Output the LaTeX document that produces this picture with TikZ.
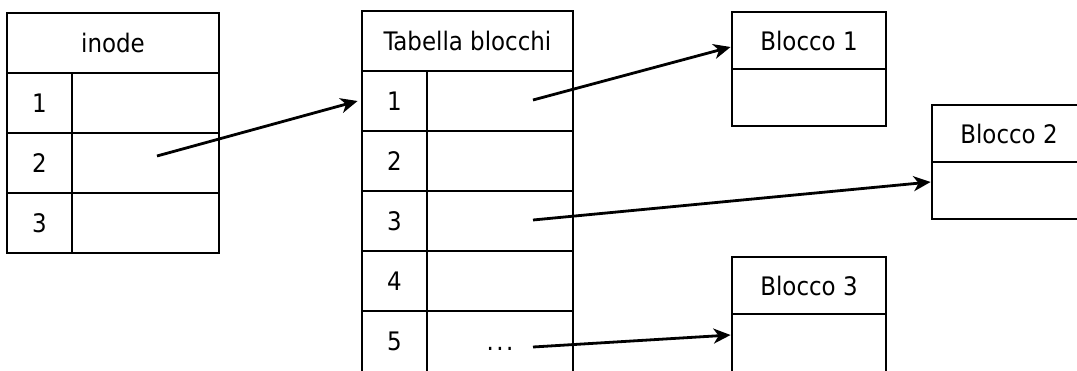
\documentclass[tikz,border=0pt]{standalone}
\usepackage{fontspec}
\setmainfont{DejaVu Sans Condensed}
\usetikzlibrary{arrows.meta}
\begin{document}
\begin{tikzpicture}[x=1pt,y=-1pt,
  cell/.style={draw,line width=2.8pt,rectangle,inner sep=0pt,font=\fontsize{25.5}{29}\selectfont},
  lbl/.style={font=\fontsize{25.5}{29}\selectfont,inner sep=0pt},
  arr/.style={line width=2.8pt,-{Stealth[length=17pt,width=15pt,inset=5pt]}}]
\useasboundingbox (0,0) rectangle (1077,370);
\clip (0,0) rectangle (1077,370);
% inode table
\node[cell,minimum width=212pt,minimum height=60pt] (ih) at (113,43) {inode};
\foreach \i/\y in {1/103,2/163,3/223}{
  \node[cell,minimum width=65pt,minimum height=60pt] (i\i n) at (39.5,\y) {\i};
  \node[cell,minimum width=147pt,minimum height=60pt] (i\i v) at (145.5,\y) {};
}
% Tabella blocchi
\node[cell,minimum width=211pt,minimum height=60pt] (th) at (467.5,41) {Tabella blocchi};
\foreach \i/\y in {1/101,2/161,3/221,4/281}{
  \node[cell,minimum width=65pt,minimum height=60pt] (t\i n) at (394.5,\y) {\i};
  \node[cell,minimum width=146pt,minimum height=60pt] (t\i v) at (500,\y) {};
}
\node[cell,minimum width=65pt,minimum height=70pt] (t5n) at (394.5,346) {};
\node[lbl] (t5l) at (394.5,341) {5};
\node[cell,minimum width=146pt,minimum height=70pt] (t5v) at (500,346) {};
\node[lbl,anchor=base] (t5d) at (500,350) {.\hspace{2.5pt}.\hspace{2.5pt}.};
% Blocchi
\node[cell,minimum width=154pt,minimum height=57pt] (b1h) at (809,40.5) {Blocco 1};
\node[cell,minimum width=154pt,minimum height=57pt] (b1b) at (809,97.5) {};
\node[cell,minimum width=154pt,minimum height=57pt] (b2h) at (1009,133.5) {Blocco 2};
\node[cell,minimum width=154pt,minimum height=57pt] (b2b) at (1009,190.5) {};
\node[cell,minimum width=154pt,minimum height=57pt] (b3h) at (809,285.5) {Blocco 3};
\node[cell,minimum width=154pt,minimum height=70pt] (b3b) at (809,349) {};
% pointers
\coordinate (p1) at (157,156);
\coordinate (p2) at (533,100);
\coordinate (p3) at (533,220);
\coordinate (p4) at (533,347);
\draw[arr] (p1) -- ([xshift=-3pt]t1n.west);
\draw[arr] (p2) -- ([yshift=-6.5pt]b1h.west);
\draw[arr] (p3) -- ([yshift=8.5pt]b2b.west);
\draw[arr] (p4) -- ([yshift=14pt]b3b.west);
\end{tikzpicture}
\end{document}
